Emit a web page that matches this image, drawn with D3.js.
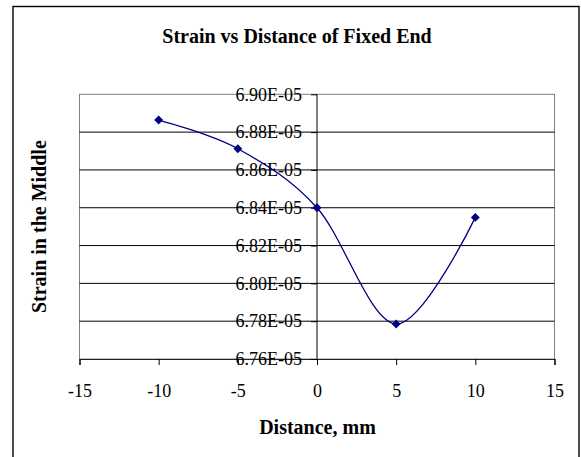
<!DOCTYPE html>
<html>
<head>
<meta charset="utf-8">
<script src="https://cdn.jsdelivr.net/npm/d3@7"></script>
<style>
  html, body { margin: 0; padding: 0; background: #fff; }
  svg { display: block; }
  text { font-family: "Liberation Serif", "Times New Roman", serif; }
</style>
</head>
<body>
<svg id="chart" width="581" height="457"></svg>
<script>
// ---- data ----
const distances = [-10, -5, 0, 5, 10];
const strains = [6.8864e-5, 6.8712e-5, 6.84e-5, 6.7785e-5, 6.8349e-5];
const xTicks = [-15, -10, -5, 0, 5, 10, 15];
const yTicks = [6.76e-5, 6.78e-5, 6.80e-5, 6.82e-5, 6.84e-5, 6.86e-5, 6.88e-5, 6.90e-5];
const titleText = "Strain vs Distance of Fixed End";
const xTitle = "Distance, mm";
const yTitle = "Strain in the Middle";

(function () {
const svg = d3.select("#chart");
const pLeft = 79.5, pRight = 554.5, pTop = 94.3, pBottom = 359;

const x = d3.scaleLinear().domain([-15, 15]).range([pLeft, pRight]);
const y = d3.scaleLinear().domain([6.76e-5, 6.90e-5]).range([pBottom, pTop]);

// outer frame (bottom edge off-page)
svg.append("rect")
  .attr("x", 13).attr("y", 6.5)
  .attr("width", 566).attr("height", 470)
  .attr("fill", "none").attr("stroke", "#000").attr("stroke-width", 1.4);

// title
svg.append("text")
  .attr("x", 297).attr("y", 42.7)
  .attr("text-anchor", "middle")
  .attr("font-weight", "bold").attr("font-size", 20)
  .text(titleText);

// plot area border (grey)
svg.append("rect")
  .attr("x", pLeft).attr("y", pTop)
  .attr("width", pRight - pLeft).attr("height", pBottom - pTop)
  .attr("fill", "none").attr("stroke", "#808080").attr("stroke-width", 1);

// gridlines
svg.append("g")
  .selectAll("line")
  .data(yTicks.filter(v => v > 6.765e-5 && v < 6.895e-5))
  .join("line")
  .attr("x1", pLeft).attr("x2", pRight)
  .attr("y1", d => y(d)).attr("y2", d => y(d))
  .attr("stroke", "#000").attr("stroke-width", 1);

// x axis at bottom
const xAxis = d3.axisBottom(x).tickValues(xTicks).tickSize(6).tickPadding(19)
  .tickFormat(d => String(d));
const gx = svg.append("g").attr("transform", `translate(0,${pBottom})`).call(xAxis);
gx.select(".domain").attr("stroke", "#222").attr("stroke-width", 1.2);
gx.selectAll(".tick line").attr("stroke", "#000");
gx.selectAll(".tick text")
  .attr("font-size", 18).attr("fill", "#000");

// y axis crossing at x = 0
const yAxis = d3.axisLeft(y).tickValues(yTicks).tickSize(6).tickPadding(9)
  .tickFormat(d => (d * 1e5).toFixed(2) + "E-05");
const gy = svg.append("g").attr("transform", `translate(${x(0)},0)`).call(yAxis);
gy.select(".domain").attr("stroke", "#000").attr("stroke-width", 1).attr("d", `M0,${pTop}V${pBottom}`);
gy.selectAll(".tick line").attr("stroke", "#000");
gy.selectAll(".tick text")
  .attr("font-size", 18).attr("fill", "#000");

// axis titles
svg.append("text")
  .attr("x", 317.5).attr("y", 434.3)
  .attr("text-anchor", "middle")
  .attr("font-weight", "bold").attr("font-size", 20)
  .text(xTitle);

svg.append("text")
  .attr("transform", `translate(45.5,${(pTop + pBottom) / 2}) rotate(-90)`)
  .attr("text-anchor", "middle")
  .attr("font-weight", "bold").attr("font-size", 20)
  .text(yTitle);

// series
const pts = distances.map((d, i) => [d, strains[i]]);
const line = d3.line().x(d => x(d[0])).y(d => y(d[1])).curve(d3.curveCatmullRom.alpha(0));
svg.append("path")
  .datum(pts)
  .attr("d", line)
  .attr("fill", "none").attr("stroke", "#000080").attr("stroke-width", 1.3);

const marker = d3.symbol().type(d3.symbolSquare).size(40);
svg.append("g")
  .selectAll("path")
  .data(pts)
  .join("path")
  .attr("d", marker)
  .attr("transform", d => `translate(${x(d[0])},${y(d[1])}) rotate(45)`)
  .attr("fill", "#000080");
})();
</script>
</body>
</html>
